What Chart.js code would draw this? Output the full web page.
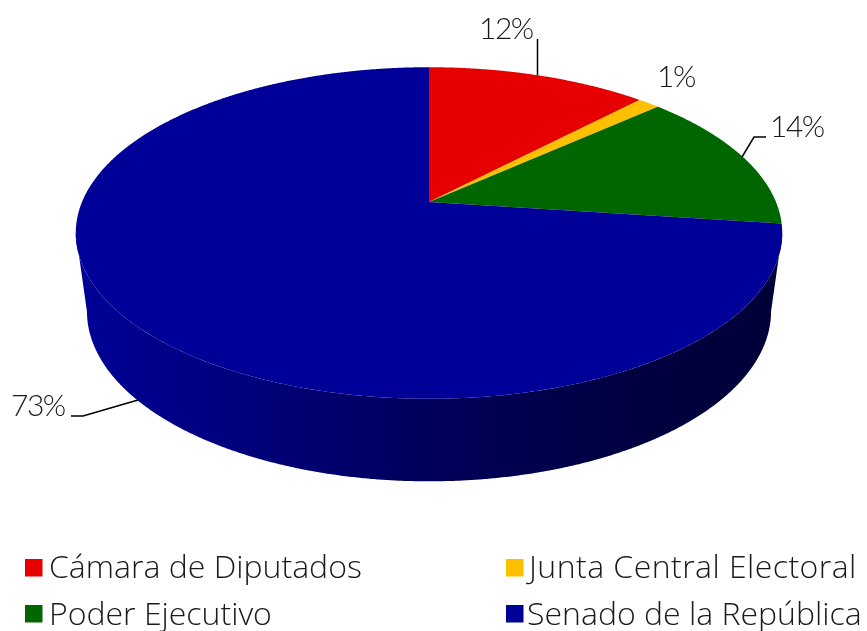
<!DOCTYPE html>
<html><head><meta charset="utf-8">
<style>html,body{margin:0;padding:0;background:#fff;overflow:hidden}#w{width:867px;height:631px}</style>
<script src="https://cdn.jsdelivr.net/npm/chart.js@4"></script></head>
<body><div id="w"><canvas id="c" width="867" height="631"></canvas></div>
<script>
const categories = ["Cámara de Diputados","Junta Central Electoral","Poder Ejecutivo","Senado de la República"];
const values = [12.1,1.2,13.8,72.9];
const colors = ["#E60000","#FFC000","#006600","#000099"];
const percentLabels = ["12%","1%","14%","73%"];

const LABEL_FONT = '300 30px Lato, sans-serif';
const LEGEND_FONT = '300 32px "Open Sans", sans-serif';
const TOP = {cx:429, y0:202, R:347, B:160};
const BOT = {cx:429, y0:279.6, R:336, B:164};
const DEN = 0.187;
const WALL_A = Math.PI/2+Math.asin(DEN), WALL_B = 2*Math.PI-WALL_A;
function proj(r, th){
  const u=Math.sin(th), v=Math.cos(th), den=1+DEN*v;
  return [r.cx+r.R*u/den, r.y0-r.B*v/den];
}
function ringPts(r,a,b){
  const n=Math.max(2,Math.ceil((b-a)/0.005)), p=[];
  for(let i=0;i<=n;i++) p.push(proj(r,a+(b-a)*i/n));
  return p;
}
const labelLayout = [
  {x:479,y:39, line:[[537.5,39],[537.5,75]]},
  {x:657,y:87, line:null},
  {x:770,y:137,line:[[766,137],[754,137],[742,157]]},
  {x:11, y:416,line:[[71,416],[83,416],[138,400]]}
];
const legendLayout = [
  {x:25,y:559,tx:49,ty:578,ls:'0px'},
  {x:506,y:559,tx:529,ty:578,ls:'0.45px'},
  {x:25,y:605,tx:49,ty:625,ls:'0px'},
  {x:506,y:605,tx:527,ty:625,ls:'0px'}
];
const pie3d = {
  id:'pie3d',
  beforeDatasetDraw(chart,args){
    const ctx=chart.ctx, arcs=chart.getDatasetMeta(args.index).data;
    const g=ctx.createLinearGradient(80,0,775,0);
    g.addColorStop(0,'#000096');g.addColorStop(0.2,'#000080');g.addColorStop(0.5,'#00005C');g.addColorStop(0.8,'#000040');g.addColorStop(1,'#000038');
    arcs.forEach(el=>{
      const a=Math.max(el.startAngle+Math.PI/2,WALL_A),b=Math.min(el.endAngle+Math.PI/2,WALL_B);
      if(b<=a) return;
      const pts=ringPts(TOP,a,b).concat(ringPts(BOT,a,b).reverse());
      ctx.beginPath();pts.forEach((p,j)=>j?ctx.lineTo(p[0],p[1]):ctx.moveTo(p[0],p[1]));ctx.closePath();
      ctx.fillStyle=g;ctx.fill();
    });
    arcs.forEach(el=>{
      const a=el.startAngle+Math.PI/2,b=el.endAngle+Math.PI/2;
      ctx.beginPath();ctx.moveTo(TOP.cx,TOP.y0);
      ringPts(TOP,a,b).forEach(p=>ctx.lineTo(p[0],p[1]));ctx.closePath();
      ctx.fillStyle=el.options.backgroundColor;ctx.fill();
    });
    return false;
  },
  afterDraw(chart){
    const ctx=chart.ctx;
    ctx.save();
    ctx.textBaseline='alphabetic';ctx.textAlign='left';
    ctx.font=LABEL_FONT;ctx.letterSpacing='-1.5px';
    percentLabels.forEach((t,i)=>{
      const l=labelLayout[i];
      ctx.fillStyle='#1a1a1a';ctx.fillText(t,l.x,l.y);
      if(l.line){ctx.beginPath();l.line.forEach((p,j)=>j?ctx.lineTo(p[0],p[1]):ctx.moveTo(p[0],p[1]));
        ctx.strokeStyle='#000';ctx.lineWidth=1.5;ctx.stroke();}
    });
    ctx.font=LEGEND_FONT;
    categories.forEach((t,i)=>{
      const l=legendLayout[i];
      ctx.letterSpacing=l.ls;
      ctx.fillStyle=colors[i];ctx.fillRect(l.x,l.y,17.5,17.5);
      ctx.fillStyle='#1a1a1a';ctx.fillText(t,l.tx,l.ty);
    });
    ctx.restore();
  }
};
new Chart(document.getElementById('c'),{
  type:'pie',
  data:{labels:categories,datasets:[{data:values,backgroundColor:colors,borderWidth:0}]},
  options:{responsive:false,animation:false,plugins:{legend:{display:false},tooltip:{enabled:false}},layout:{padding:0}},
  plugins:[pie3d]
});
</script></body></html>
